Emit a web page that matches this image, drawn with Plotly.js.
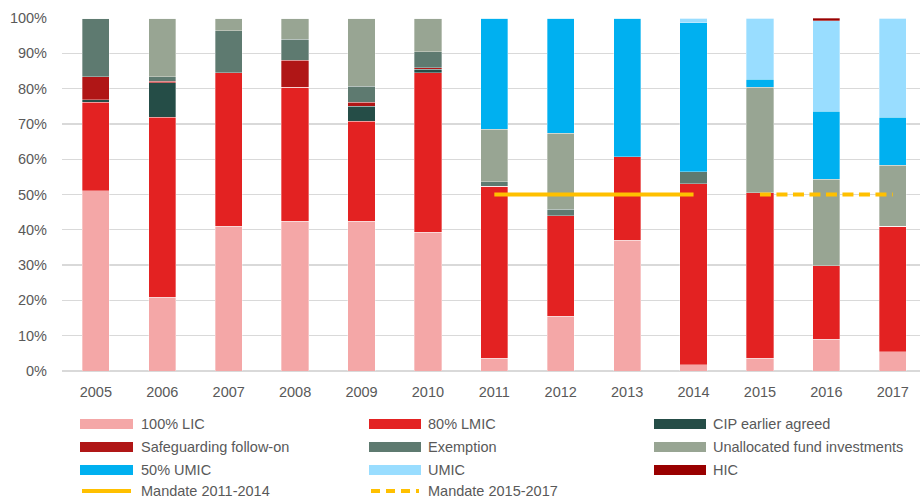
<!DOCTYPE html>
<html>
<head>
<meta charset="utf-8">
<script src="https://cdn.plot.ly/plotly-3.0.1.min.js"></script>
<style>
  html, body { margin: 0; padding: 0; background: #fff; }
  #chart { width: 920px; height: 498px; }
</style>
</head>
<body>
<div id="chart"></div>
<script>
// Share of commitments by country-income category, 2005-2017 (percent of annual total)
const years = ['2005', '2006', '2007', '2008', '2009', '2010', '2011', '2012', '2013', '2014', '2015', '2016', '2017'];

const lic100      = [51.1, 20.9, 41.0, 42.4, 42.4, 39.3,  3.6, 15.5, 37.0,  1.8,  3.6,  9.0,  5.4];
const lmic80      = [25.1, 51.0, 43.5, 38.0, 28.4, 45.2, 48.8, 28.5, 23.7, 51.2, 46.9, 20.8, 35.6];
const cipEarlier  = [ 0.6,  9.7,  0,    0,    4.2,  1.0,  0,    0,    0,    0,    0,    0,    0  ];
const safeguard   = [ 6.5,  0.5,  0,    7.7,  1.2,  0.4,  0,    0,    0,    0,    0,    0,    0  ];
const exemption   = [16.7,  1.2, 11.9,  5.9,  4.5,  4.5,  1.2,  1.8,  0,    3.4,  0,    0,    0  ];
const unallocated = [ 0,   16.7,  3.6,  6.0, 19.3,  9.6, 14.9, 21.5,  0,    0,   29.9, 24.5, 17.3];
const umic50      = [ 0,    0,    0,    0,    0,    0,   31.5, 32.7, 39.3, 42.3,  2.3, 19.3, 13.6];
const umic        = [ 0,    0,    0,    0,    0,    0,    0,    0,    0,    1.3, 17.3, 25.6, 28.1];
const hic         = [ 0,    0,    0,    0,    0,    0,    0,    0,    0,    0,    0,    0.8,  0  ];

const seriesNames = ['100% LIC', '80% LMIC', 'CIP earlier agreed', 'Safeguarding follow-on', 'Exemption',
                     'Unallocated fund investments', '50% UMIC', 'UMIC', 'HIC'];
const seriesValues = [lic100, lmic80, cipEarlier, safeguard, exemption, unallocated, umic50, umic, hic];
const seriesColors = ['#F4A7A7', '#E32222', '#254D47', '#B01616', '#5E7A70', '#98A593', '#00B0F0', '#99DDFF', '#990000'];

// Y axis ticks
const yTickValues = [0, 10, 20, 30, 40, 50, 60, 70, 80, 90, 100];
const yTickLabels = ['0%', '10%', '20%', '30%', '40%', '50%', '60%', '70%', '80%', '90%', '100%'];

// Mandate target lines
const mandate1Years = ['2011', '2014'];
const mandate1Share = [50, 50];
const mandate2Years = ['2015', '2017'];
const mandate2Share = [50, 50];
const mandateNames = ['Mandate 2011-2014', 'Mandate 2015-2017'];
const mandateColor = '#FFC000';

const FONT = '"Liberation Sans", Arial, sans-serif';
const TEXT_COLOR = '#595959';

// Plot area geometry in pixels
const W = 920, H = 498;
const M = { l: 62, r: 0, t: 18, b: 127 };
const PW = W - M.l - M.r, PH = H - M.t - M.b;
const px = x => (x - M.l) / PW;          // page x -> paper x
const py = y => (H - M.b - y) / PH;      // page y -> paper y

const traces = seriesNames.map((name, i) => ({
  type: 'bar',
  name: name,
  x: years,
  y: seriesValues[i],
  marker: { color: seriesColors[i], line: { color: 'rgba(255,255,255,0.55)', width: 0.6 } },
  hovertemplate: '%{x}: %{y:.1f}%<extra>' + name + '</extra>'
}));

traces.push({
  type: 'scatter', mode: 'lines', name: mandateNames[0],
  x: mandate1Years, y: mandate1Share,
  line: { color: mandateColor, width: 4 }
});
traces.push({
  type: 'scatter', mode: 'lines', name: mandateNames[1],
  x: mandate2Years, y: mandate2Share,
  line: { color: mandateColor, width: 4, dash: '11px,5.5px' }
});

// Legend: three columns, four rows, drawn below the plot
const colSwatch = [[80, 133], [369, 421], [654, 706]];
const colText = [139, 426, 711];
const rowY = [424, 447, 470, 491];

const shapes = [];
const annotations = [];
seriesNames.forEach((name, i) => {
  const c = i % 3, r = Math.floor(i / 3);
  shapes.push({
    type: 'rect', xref: 'paper', yref: 'paper',
    x0: px(colSwatch[c][0]), x1: px(colSwatch[c][1]),
    y0: py(rowY[r] + 5), y1: py(rowY[r] - 5),
    fillcolor: seriesColors[i], line: { width: 0 }
  });
  annotations.push({
    xref: 'paper', yref: 'paper', x: px(colText[c]), y: py(rowY[r]),
    xanchor: 'left', yanchor: 'middle', showarrow: false,
    text: name, font: { family: FONT, size: 14.5, color: TEXT_COLOR }
  });
});
mandateNames.forEach((name, c) => {
  shapes.push({
    type: 'line', xref: 'paper', yref: 'paper',
    x0: px(colSwatch[c][0] + 2), x1: px(colSwatch[c][1] - 2),
    y0: py(rowY[3]), y1: py(rowY[3]),
    line: { color: mandateColor, width: 4, dash: c === 0 ? 'solid' : '9px,6px' }
  });
  annotations.push({
    xref: 'paper', yref: 'paper', x: px(colText[c]), y: py(rowY[3]),
    xanchor: 'left', yanchor: 'middle', showarrow: false,
    text: name, font: { family: FONT, size: 14.5, color: TEXT_COLOR }
  });
});

const layout = {
  width: W, height: H,
  margin: M,
  paper_bgcolor: '#fff', plot_bgcolor: '#fff',
  barmode: 'stack',
  bargap: 0.59,
  showlegend: false,
  font: { family: FONT, size: 14.5, color: TEXT_COLOR },
  xaxis: {
    type: 'category',
    range: [-0.51, 12.41],
    showgrid: false, zeroline: false, showline: false,
    ticks: '', ticklabelstandoff: 10,
    tickfont: { family: FONT, size: 14.5, color: TEXT_COLOR }
  },
  yaxis: {
    range: [0, 100],
    tickmode: 'array',
    tickvals: yTickValues,
    ticktext: yTickLabels,
    showgrid: true, gridcolor: '#D9D9D9', gridwidth: 1.3,
    zeroline: true, zerolinecolor: '#D9D9D9', zerolinewidth: 1.3,
    showline: false, ticks: '', ticklabelstandoff: 14,
    tickfont: { family: FONT, size: 14.5, color: TEXT_COLOR }
  },
  shapes: shapes,
  annotations: annotations
};

Plotly.newPlot('chart', traces, layout, { displayModeBar: false, staticPlot: true });
</script>
</body>
</html>
